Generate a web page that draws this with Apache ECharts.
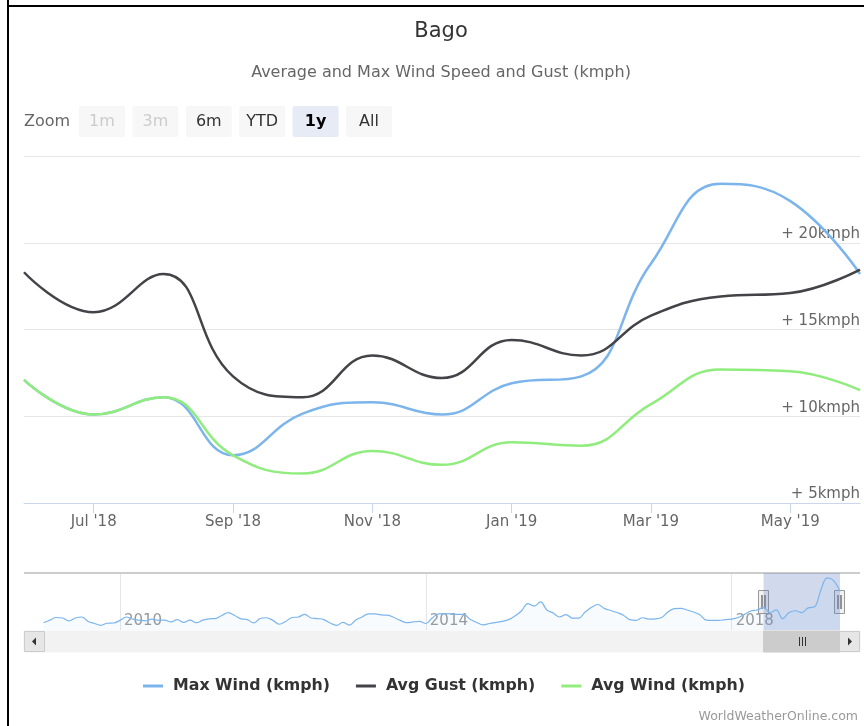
<!DOCTYPE html>
<html>
<head>
<meta charset="utf-8">
<title>Bago wind</title>
<script src="https://cdn.jsdelivr.net/npm/echarts@6/dist/echarts.min.js"></script>
<style>
  html, body { margin: 0; padding: 0; background: #fff; }
  #main { width: 864px; height: 726px; }
</style>
</head>
<body>
<div id="main"></div>
<script>
// monthly points, Jun '18 .. Jun '19
var months = ["Jun '18", "Jul '18", "Aug '18", "Sep '18", "Oct '18", "Nov '18", "Dec '18",
  "Jan '19", "Feb '19", "Mar '19", "Apr '19", "May '19", "Jun '19"];
var maxWind = [12.1, 10.1, 11.1, 7.75, 10.15, 10.8, 10.1, 11.9, 12.3, 18.8, 23.4, 22.4, 18.2];
var avgGust = [18.3, 16.0, 18.2, 12.3, 11.1, 13.5, 12.2, 14.4, 13.5, 15.8, 16.9, 17.1, 18.45];
var avgWind = [12.1, 10.1, 11.1, 7.75, 6.7, 8.0, 7.2, 8.5, 8.3, 10.7, 12.7, 12.6, 11.5];

// navigator: max wind history Jan 2009 .. May 2018 (rest comes from maxWind)
var maxWindHistory = [
  6.2, 7.2, 8.2, 8.0, 6.9, 8.0, 8.4, 6.7, 5.9, 5.2, 6.0, 6.1,
  7.1, 8.4, 7.6, 7.2, 6.9, 7.6, 7.2, 7.2, 6.5, 7.4, 6.3, 7.2,
  6.2, 7.2, 7.7, 7.8, 9.0, 10.1, 9.0, 7.7, 7.4, 6.1, 7.8, 8.1,
  7.1, 5.6, 6.7, 8.2, 8.4, 9.4, 8.0, 7.8, 7.4, 6.1, 5.2, 6.3,
  5.3, 7.2, 8.4, 9.6, 9.6, 9.2, 9.1, 8.2, 7.1, 6.2, 6.5, 6.7,
  5.9, 8.0, 9.6, 9.7, 9.6, 9.4, 9.3, 7.4, 6.3, 5.4, 5.9, 6.3,
  6.7, 7.4, 8.8, 10.7, 13.5, 12.6, 14.2, 11.1, 9.9, 8.4, 9.3, 8.0,
  8.0, 10.3, 12.1, 13.2, 11.7, 10.9, 10.1, 9.1, 7.4, 7.1, 8.1, 7.6,
  7.7, 8.2, 10.3, 11.6, 11.7, 11.1, 10.3, 9.3, 7.2, 7.1, 7.1, 7.4,
  7.6, 8.2, 9.4, 10.7, 11.1
];
var navYears = ['2010', '2014', '2018'];
var zoomButtons = ['1m', '3m', '6m', 'YTD', '1y', 'All'];

var FONT = 'DejaVu Sans';

var navMonths = [];
for (var y = 2009; y <= 2019; y++) {
  for (var m = 1; m <= 12; m++) {
    if (navMonths.length < maxWindHistory.length + maxWind.length) {
      navMonths.push(y + '-' + (m < 10 ? '0' + m : m));
    }
  }
}
var navData = maxWindHistory.concat(maxWind);
var selStart = maxWindHistory.length;

function isYearMark(i) {
  var c = navMonths[i];
  return c.slice(5) === '01' && navYears.indexOf(c.slice(0, 4)) >= 0;
}

var option = {
  animation: false,
  backgroundColor: '#fff',
  textStyle: { fontFamily: FONT },
  legend: {
    left: 143,
    top: 678,
    padding: 0,
    icon: 'rect',
    itemWidth: 20,
    itemHeight: 3,
    itemGap: 26,
    textStyle: { fontSize: 15.8, fontWeight: 'bold', color: '#333', fontFamily: FONT, padding: [0, 0, 0, 5] },
    data: ['Max Wind (kmph)', 'Avg Gust (kmph)', 'Avg Wind (kmph)']
  },
  grid: [
    { left: 24, right: 4, top: 156, bottom: 223 },
    { left: 43.5, right: 24, top: 573, bottom: 96 }
  ],
  xAxis: [{
    type: 'category',
    gridIndex: 0,
    data: months,
    boundaryGap: false,
    axisLine: { lineStyle: { color: '#ccd6eb', width: 1 } },
    axisTick: { length: 10, lineStyle: { color: '#ccd6eb' }, interval: function (i) { return i % 2 === 1; } },
    axisLabel: { color: '#666', fontSize: 15, margin: 12, interval: function (i) { return i % 2 === 1; } },
    splitLine: { show: false }
  }, {
    type: 'category',
    gridIndex: 1,
    data: navMonths,
    boundaryGap: false,
    axisLine: { show: false },
    axisTick: { show: false },
    axisLabel: {
      inside: true, margin: 1, align: 'left', padding: [0, 0, 0, 4],
      color: '#999', fontSize: 15,
      interval: function (i) { return isYearMark(i); },
      formatter: function (v) { return v.slice(0, 4); }
    },
    splitLine: { show: true, lineStyle: { color: '#e6e6e6' }, interval: function (i) { return isYearMark(i); } }
  }],
  yAxis: [{
    type: 'value',
    gridIndex: 0,
    position: 'right',
    min: 5,
    max: 25,
    interval: 5,
    axisLine: { show: false },
    axisTick: { show: false },
    axisLabel: {
      inside: true, showMaxLabel: false, margin: 0,
      align: 'right', verticalAlign: 'bottom', padding: [0, 0, 1, 0],
      color: '#666', fontSize: 15, formatter: '+ {value}kmph'
    },
    splitLine: { lineStyle: { color: '#e6e6e6' } }
  }, {
    type: 'value',
    gridIndex: 1,
    min: 3.4,
    max: 25.3,
    show: false,
    splitLine: { show: false }
  }],
  series: [{
    name: 'Max Wind (kmph)', type: 'line', data: maxWind, smooth: 0.45,
    symbol: 'none', color: '#7cb5ec', lineStyle: { width: 2.5 }
  }, {
    name: 'Avg Gust (kmph)', type: 'line', data: avgGust, smooth: 0.45,
    symbol: 'none', color: '#434348', lineStyle: { width: 2.5 }
  }, {
    name: 'Avg Wind (kmph)', type: 'line', data: avgWind, smooth: 0.45,
    symbol: 'none', color: '#90ed7d', lineStyle: { width: 2.5 }
  }, {
    name: 'navigator', type: 'line', xAxisIndex: 1, yAxisIndex: 1,
    data: navData, smooth: 0.4, symbol: 'none', silent: true,
    color: '#7cb5ec', lineStyle: { width: 1.2 },
    areaStyle: { color: '#7cb5ec', opacity: 0.06 },
    markArea: {
      silent: true,
      itemStyle: { color: 'rgba(102,133,194,0.3)' },
      data: [[{ xAxis: navMonths[selStart] }, { xAxis: navMonths[navMonths.length - 1] }]]
    }
  }]
};

var chart = echarts.init(document.getElementById('main'));
chart.setOption(option);

// ui chrome: title, zoom buttons, navigator handles, scrollbar
var x0 = chart.convertToPixel({ xAxisIndex: 1 }, navMonths[selStart]);
var x1 = chart.convertToPixel({ xAxisIndex: 1 }, navMonths[navMonths.length - 1]);

var g = [];
g.push({ type: 'line', shape: { x1: 8, y1: 0, x2: 8, y2: 726 }, style: { stroke: '#000', lineWidth: 2 } });
g.push({ type: 'line', shape: { x1: 7, y1: 6, x2: 864, y2: 6 }, style: { stroke: '#000', lineWidth: 2 } });
g.push({ type: 'text', x: 441, y: 32, style: { text: 'Bago', font: '21px ' + FONT, fill: '#333', align: 'center', verticalAlign: 'middle' } });
g.push({ type: 'text', x: 441, y: 73, style: { text: 'Average and Max Wind Speed and Gust (kmph)', font: '16px ' + FONT, fill: '#666', align: 'center', verticalAlign: 'middle' } });
g.push({ type: 'text', x: 24, y: 122, style: { text: 'Zoom', font: '16px ' + FONT, fill: '#666', verticalAlign: 'middle' } });

zoomButtons.forEach(function (b, i) {
  var bx = 79 + i * 53.4;
  var sel = b === '1y';
  var off = b === '1m' || b === '3m';
  g.push({ type: 'rect', shape: { x: bx, y: 106, width: 46, height: 31, r: 2 }, style: { fill: sel ? '#e6ebf5' : '#f7f7f7' } });
  g.push({ type: 'text', x: bx + 23, y: 122, style: {
    text: b, font: (sel ? 'bold ' : '') + '16px ' + FONT,
    fill: off ? '#ccc' : (sel ? '#000' : '#333'), align: 'center', verticalAlign: 'middle'
  } });
});

// navigator outline
g.push({ type: 'line', shape: { x1: 24, y1: 573, x2: 860, y2: 573 }, style: { stroke: '#ccc', lineWidth: 2 } });

// scrollbar
g.push({ type: 'rect', shape: { x: 24, y: 631, width: 836, height: 21 }, style: { fill: '#f2f2f2', stroke: '#f2f2f2' } });
g.push({ type: 'rect', shape: { x: x0, y: 631, width: x1 - x0, height: 21 }, style: { fill: '#ccc', stroke: '#ccc' } });
[-3, 0, 3].forEach(function (d) {
  var cx = Math.round((x0 + x1) / 2) + d + 0.5;
  g.push({ type: 'line', shape: { x1: cx, y1: 637, x2: cx, y2: 646 }, style: { stroke: '#333', lineWidth: 1 } });
});
g.push({ type: 'rect', shape: { x: 24.5, y: 631.5, width: 20, height: 20 }, style: { fill: '#e6e6e6', stroke: '#ccc' } });
g.push({ type: 'rect', shape: { x: 839.5, y: 631.5, width: 20, height: 20 }, style: { fill: '#e6e6e6', stroke: '#ccc' } });
g.push({ type: 'polygon', shape: { points: [[32, 641.5], [36, 637.5], [36, 645.5]] }, style: { fill: '#333' } });
g.push({ type: 'polygon', shape: { points: [[852, 641.5], [848, 637.5], [848, 645.5]] }, style: { fill: '#333' } });

// navigator handles
[x0, x1].forEach(function (hx) {
  var lx = Math.round(hx) - 5.5;
  g.push({ type: 'rect', shape: { x: lx, y: 590.5, width: 10, height: 23 }, style: { fill: '#f2f2f2', stroke: '#999', lineWidth: 1 } });
  g.push({ type: 'line', shape: { x1: lx + 3.5, y1: 595, x2: lx + 3.5, y2: 609 }, style: { stroke: '#333', lineWidth: 1 } });
  g.push({ type: 'line', shape: { x1: lx + 6.5, y1: 595, x2: lx + 6.5, y2: 609 }, style: { stroke: '#333', lineWidth: 1 } });
});

g.push({ type: 'text', x: 858, y: 717, style: { text: 'WorldWeatherOnline.com', font: '12.5px ' + FONT, fill: '#999', align: 'right', verticalAlign: 'middle' } });

chart.setOption({ graphic: g });
</script>
</body>
</html>
